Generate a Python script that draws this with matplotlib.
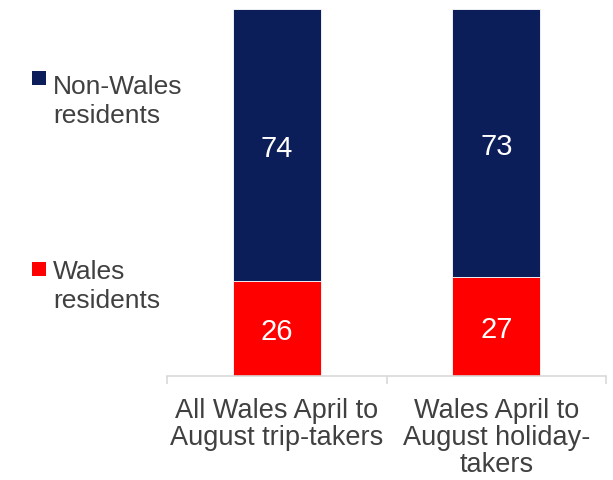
import matplotlib.pyplot as plt
from matplotlib.patches import Rectangle

groups = ['All Wales April to\nAugust trip-takers',
          'Wales April to\nAugust holiday-\ntakers']
wales = [26, 27]
non_wales = [74, 73]
series_names = ['Wales\nresidents', 'Non-Wales\nresidents']
colors = ['#FF0000', '#0C1E5A']

plt.rcParams['font.family'] = ['Liberation Sans', 'DejaVu Sans']
W, H = 613, 481
fig = plt.figure(figsize=(W / 100, H / 100), dpi=100)
ax = fig.add_axes([167 / W, 1 - 377 / H, 439 / W, 367 / H])

x = list(range(len(groups)))
ax.bar(x, wales, width=0.4, color=colors[0], edgecolor='white', linewidth=0.6)
ax.bar(x, non_wales, width=0.4, bottom=wales, color=colors[1],
       edgecolor='white', linewidth=0.6)

for i in x:
    ax.text(i, wales[i] / 2, str(wales[i]), ha='center',
            va='center_baseline', color='white', fontsize=21)
    ax.text(i, wales[i] + non_wales[i] / 2, str(non_wales[i]), ha='center',
            va='center_baseline', color='white', fontsize=21)

ax.set_xlim(-0.5, len(groups) - 0.5)
ax.set_ylim(0, 100)
ax.set_yticks([])
for side in ['left', 'right', 'top']:
    ax.spines[side].set_visible(False)
ax.spines['bottom'].set_color('#D9D9D9')
ax.spines['bottom'].set_linewidth(1.2)

ax.set_xticks(x)
ax.set_xticklabels(groups, fontsize=19.5, color='#404040', linespacing=1.06)
ax.tick_params(axis='x', which='major', length=0, pad=15)
ax.set_xticks([-0.5, 0.5, 1.5], minor=True)
ax.tick_params(axis='x', which='minor', length=6, width=1.2, color='#D9D9D9')

# legend entries placed beside their segments
legend_pos = [(263, 308), (72, 123)]  # (marker top, last baseline) in px
for name, color, (mtop, base) in zip(series_names, colors, legend_pos):
    fig.add_artist(Rectangle((32 / W, 1 - (mtop + 14) / H), 14 / W, 14 / H,
                             transform=fig.transFigure, facecolor=color,
                             edgecolor='none'))
    fig.text(53 / W, 1 - base / H, name, ha='left', va='baseline',
             fontsize=19, color='#404040', linespacing=1.24)

fig.savefig('out.png', dpi=100)
